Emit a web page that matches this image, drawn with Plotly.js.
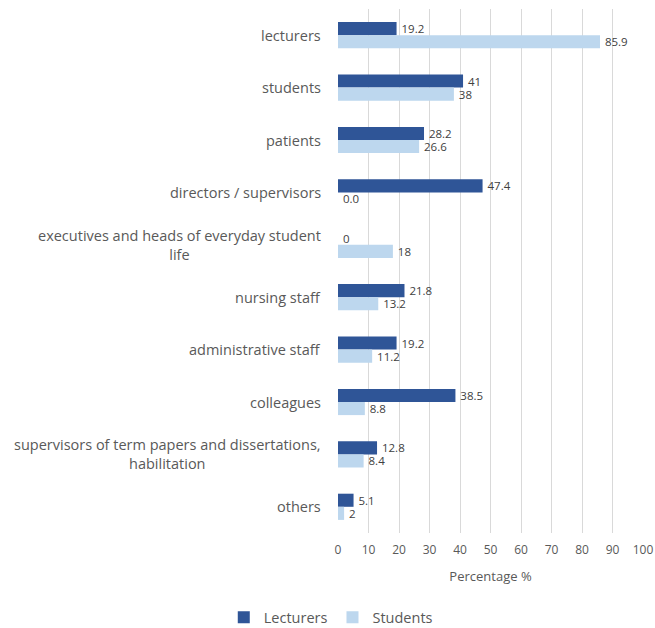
<!DOCTYPE html>
<html>
<head>
<meta charset="utf-8">
<script src="https://cdn.plot.ly/plotly-3.0.1.min.js"></script>
<style>html,body{margin:0;padding:0;background:#fff;}#chart{width:655px;height:628px;}</style>
</head>
<body>
<div id="chart"></div>
<script>
const categories = [
  "lecturers",
  "students",
  "patients",
  "directors / supervisors",
  "executives and heads of everyday student<br>life",
  "nursing staff",
  "administrative staff",
  "colleagues",
  "supervisors of term papers and dissertations,<br>habilitation",
  "others"
];
const lecturers = [19.2, 41, 28.2, 47.4, 0, 21.8, 19.2, 38.5, 12.8, 5.1];
const lecturersText = ["19.2", "41", "28.2", "47.4", "0", "21.8", "19.2", "38.5", "12.8", "5.1"];
const students = [85.9, 38, 26.6, 0, 18, 13.2, 11.2, 8.8, 8.4, 2];
const studentsText = ["85.9", "38", "26.6", "0.0", "18", "13.2", "11.2", "8.8", "8.4", "2"];

const common = {
  type: "bar",
  orientation: "h",
  textposition: "outside",
  constraintext: "none",
  cliponaxis: false,
  textfont: {family: "Open Sans, sans-serif", size: 11.5, color: "#404040"},
  hoverinfo: "x+y"
};
const data = [
  Object.assign({}, common, {name: "Lecturers", x: lecturers, y: categories, text: lecturersText.map(t => "\u2009" + t), marker: {color: "#2F5597"}}),
  Object.assign({}, common, {name: "Students", x: students, y: categories, text: studentsText.map(t => "\u2009" + t), marker: {color: "#BDD7EE"}})
];
const annotations = categories.map(c => ({
  xref: "paper", yref: "y", x: 0, y: c, xanchor: "right", yanchor: "middle",
  xshift: -15, text: c, showarrow: false, align: "center",
  font: {family: "Open Sans, sans-serif", size: 14.5, color: "#595959"}
}));
const layout = {
  width: 655, height: 628,
  margin: {l: 338, r: 12, t: 9, b: 95},
  paper_bgcolor: "#fff", plot_bgcolor: "#fff",
  font: {family: "Open Sans, sans-serif", color: "#595959"},
  barmode: "group",
  bargap: 0.5,
  bargroupgap: 0,
  xaxis: {
    range: [0, 100], dtick: 10, tick0: 0,
    showgrid: true, gridcolor: "#d9d9d9", zeroline: false,
    showline: false, ticks: "", ticklabelstandoff: 8,
    tickfont: {size: 12, color: "#595959"},
    title: {text: "Percentage %", font: {size: 13, color: "#595959"}, standoff: 14}
  },
  yaxis: {
    autorange: "reversed", type: "category",
    showgrid: false, zeroline: false, showline: false, ticks: "",
    showticklabels: false
  },
  annotations: annotations,
  showlegend: true,
  legend: {
    orientation: "h", xref: "container", yref: "container",
    x: 0.505, xanchor: "center", y: 0.017, yanchor: "middle",
    font: {size: 14.5, color: "#595959"}
  }
};
Plotly.newPlot("chart", data, layout, {displayModeBar: false, staticPlot: true});
</script>
</body>
</html>
